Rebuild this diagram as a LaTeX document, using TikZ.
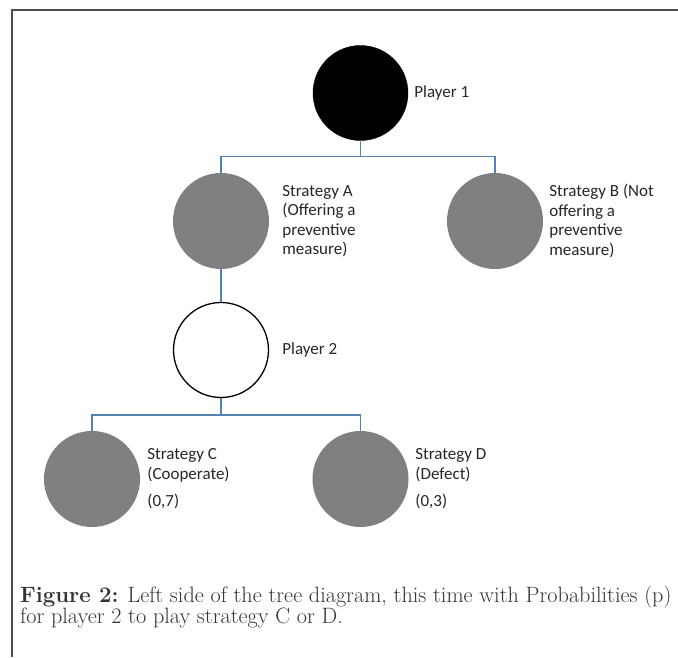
\documentclass[tikz,border=0pt]{standalone}
\usepackage{fontspec}
\usetikzlibrary{positioning}
\newfontfamily\calibri{Carlito}
\definecolor{ramo}{RGB}{84,130,180}
\definecolor{cinza}{RGB}{128,128,128}

\begin{document}
\begin{tikzpicture}[x=1pt, y=1pt,
    font=\calibri\fontsize{17}{19.5}\selectfont,
    label text/.style={inner sep=0, align=left, text=black!85},
    branch/.style={draw=ramo, line width=1.3}]
    \useasboundingbox (0,0) rectangle (678,657);

    % frame
    \draw [line width=1.5, black!70] (12,0) -- (12,647) -- (678,647);

    \node [draw,
    circle,
    fill=black,
    minimum size=95
    ] (player 1) at (360.5,564) {};

    \node [circle,
    fill=cinza,
    minimum size=96
    ] (strategy a) at (221,436) {};

    \node [circle,
    fill=cinza,
    minimum size=96
    ] (strategy b) at (495,436) {};

    \node [draw,
    circle,
    fill=white,
    line width=1.3,
    minimum size=95
    ] (player 2) at (221,307) {};

    \node [circle,
    fill=cinza,
    minimum size=96
    ] (strategy c) at (92,178) {};

    \node [circle,
    fill=cinza,
    minimum size=96
    ] (strategy d) at (360.5,178) {};

    % labels
    \node [label text, right=6pt of player 1] (player 1 text) {Player 1};
    \node [label text, right=13pt of strategy a] (strategy a text) {
        Strategy A\\
        (Offering a\\
        preventive\\
        measure)};
    \node [label text, right=6pt of strategy b] (strategy b text) {
        Strategy B (Not\\
        offering a\\
        preventive\\
        measure)};
    \node [label text, right=13pt of player 2] (player 2 text) {Player 2};
    \node [label text, right=7pt of strategy c] (strategy c text) {
        Strategy C\\
        (Cooperate)\\[8pt]
        (0,7)};
    \node [label text, right=6.5pt of strategy d] (strategy d text) {
        Strategy D\\
        (Defect)\\[8pt]
        (0,3)};

    % branches
    \draw [branch] (player 1.south) --++ (0,-16) -| (strategy a.north);
    \draw [branch] (player 1.south) --++ (0,-16) -| (strategy b.north);
    \draw [branch] (strategy a.south) -- (player 2.north);
    \draw [branch] (player 2.south) --++ (0,-17) -| (strategy c.north);
    \draw [branch] (player 2.south) --++ (0,-17) -| (strategy d.north);

    \node [anchor=west,
    align=left,
    inner sep=0,
    text=black!80,
    font=\fontsize{22.2}{21.5}\selectfont
    ] (caption) at (20,50) {
        \textbf{Figure 2:} Left side of the tree diagram, this time with Probabilities (p)\\
        for player 2 to play strategy C or D.};
\end{tikzpicture}
\end{document}
